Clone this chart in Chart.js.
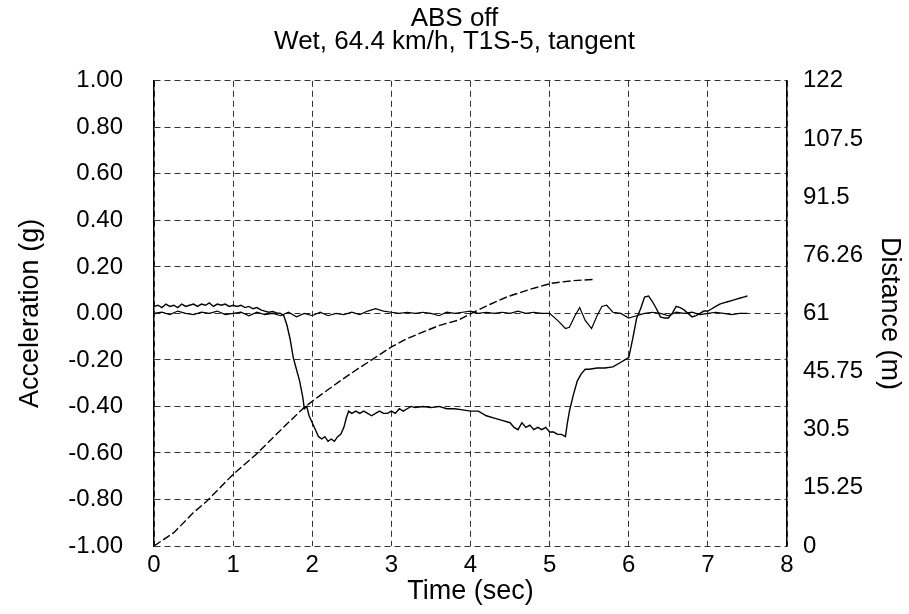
<!DOCTYPE html>
<html>
<head>
<meta charset="utf-8">
<script src="https://cdn.jsdelivr.net/npm/chart.js@4.4.1/dist/chart.umd.min.js"></script>
<style>
  html, body { margin: 0; padding: 0; background: #ffffff; }
  #wrap { width: 909px; height: 614px; }
</style>
</head>
<body>
<div id="wrap"><canvas id="c" width="909" height="614"></canvas></div>
<script>
// ---- Text ----
const titleLine1 = 'ABS off';
const titleLine2 = 'Wet, 64.4 km/h, T1S-5, tangent';
const xTitle = 'Time (sec)';
const yLeftTitle = 'Acceleration (g)';
const yRightTitle = 'Distance (m)';

// ---- Tick labels ----
const xTickLabels = ['0', '1', '2', '3', '4', '5', '6', '7', '8'];
const leftTickLabels = ['-1.00', '-0.80', '-0.60', '-0.40', '-0.20', '0.00', '0.20', '0.40', '0.60', '0.80', '1.00'];
const rightTickLabels = ['0', '15.25', '30.5', '45.75', '61', '76.26', '91.5', '107.5', '122'];

// ---- Longitudinal acceleration (g) ----
const longTime = [0,0.05,0.1,0.15,0.2,0.25,0.3,0.35,0.4,0.45,0.5,0.55,0.6,0.65,0.7,0.75,0.8,0.85,0.9,0.95,
  1.0,1.05,1.1,1.15,1.2,1.25,1.3,1.35,1.4,1.45,1.5,1.55,1.6,1.64,1.68,1.72,1.76,1.8,1.84,1.88,1.9,1.93,1.96,
  2.0,2.04,2.08,2.12,2.16,2.2,2.24,2.28,2.32,2.36,2.4,2.43,2.46,2.5,2.55,2.6,2.65,2.7,2.75,2.8,2.85,2.9,2.95,
  3.0,3.05,3.1,3.15,3.2,3.25,3.3,3.4,3.5,3.6,3.7,3.8,3.9,4.0,4.1,4.2,4.3,4.4,4.5,4.55,4.6,4.65,4.7,4.75,4.8,
  4.85,4.9,4.95,5.0,5.05,5.1,5.15,5.2,5.22,5.25,5.3,5.35,5.4,5.45,5.5,5.6,5.7,5.8,5.9,5.95,6.0,6.05,6.1,6.15,
  6.2,6.25,6.3,6.35,6.4,6.45,6.5,6.55,6.6,6.65,6.7,6.75,6.8,6.85,6.9,6.95,7.0,7.05,7.1,7.15,7.2,7.25,7.3,
  7.35,7.4,7.45,7.5];
const longAccel = [0.03,0.035,0.025,0.04,0.03,0.035,0.025,0.04,0.03,0.035,0.04,0.03,0.04,0.035,0.045,0.03,0.04,0.035,0.04,0.03,
  0.035,0.03,0.035,0.025,0.03,0.02,0.025,0.015,0.01,0.005,0.008,0.002,0.0,-0.01,-0.05,-0.11,-0.19,-0.24,-0.29,-0.36,-0.41,-0.40,-0.44,
  -0.47,-0.50,-0.53,-0.54,-0.53,-0.55,-0.54,-0.55,-0.53,-0.52,-0.49,-0.45,-0.42,-0.43,-0.42,-0.43,-0.42,-0.43,-0.44,-0.43,-0.42,-0.43,-0.43,
  -0.42,-0.43,-0.41,-0.42,-0.41,-0.40,-0.405,-0.40,-0.405,-0.40,-0.41,-0.41,-0.415,-0.42,-0.42,-0.44,-0.45,-0.46,-0.47,-0.49,-0.50,-0.47,-0.49,-0.48,-0.50,
  -0.49,-0.50,-0.49,-0.51,-0.51,-0.52,-0.52,-0.53,-0.48,-0.42,-0.35,-0.29,-0.26,-0.24,-0.24,-0.235,-0.235,-0.23,-0.21,-0.20,-0.19,-0.11,-0.02,0.02,
  0.07,0.075,0.05,0.02,-0.015,-0.02,-0.02,0.0,0.03,0.025,0.015,0.0,-0.015,-0.01,0.0,0.01,0.01,0.02,0.03,0.04,0.045,0.05,0.055,
  0.06,0.065,0.07,0.075];

// ---- Lateral acceleration (g) ----
const latTime = [0,0.1,0.2,0.3,0.4,0.5,0.6,0.7,0.8,0.9,1.0,1.1,1.2,1.3,1.4,1.5,1.6,1.7,1.8,1.9,2.0,2.1,2.2,2.3,2.4,2.5,
  2.6,2.7,2.8,2.9,3.0,3.1,3.2,3.3,3.4,3.5,3.6,3.7,3.8,3.9,4.0,4.1,4.2,4.3,4.4,4.5,4.6,4.7,4.8,4.9,5.0,5.1,5.2,5.25,
  5.32,5.38,5.45,5.53,5.6,5.66,5.72,5.8,5.9,6.0,6.1,6.2,6.3,6.4,6.5,6.6,6.7,6.8,6.9,7.0,7.1,7.2,7.3,7.4,7.5];
const latAccel = [0.0,0.005,-0.005,0.01,0.0,-0.005,0.005,0.0,0.01,-0.005,0.0,0.005,-0.01,0.005,-0.005,0.0,-0.01,0.005,-0.015,0.0,
  -0.01,0.005,-0.01,0.0,-0.005,0.005,-0.005,0.01,0.02,0.01,0.005,0.0,0.005,0.0,0.005,0.0,-0.01,0.005,0.0,0.005,0.01,0.0,0.005,0.0,
  0.005,0.0,0.01,0.0,0.005,0.0,0.0,-0.03,-0.065,-0.06,-0.01,0.025,-0.03,-0.065,-0.01,0.03,0.035,0.005,0.0,-0.02,-0.01,0.0,0.005,
  0.0,-0.01,0.005,0.0,0.005,-0.005,0.0,0.005,0.0,-0.005,0.0,0.0];

// ---- Distance (m) ----
const distTime = [0,0.25,0.5,0.67,1.0,1.3,1.64,1.9,2.1,2.36,2.6,2.78,3.0,3.2,3.41,3.6,3.84,4.05,4.25,4.47,4.75,5.02,5.3,5.55];
const distance = [0,3.5,8.8,11.8,18.8,24.2,31.2,36.4,39.5,43.4,46.8,49.2,52.2,54.4,56.2,57.8,59.2,61.4,63.4,65.4,67.3,68.9,69.6,69.9];

const toPoints = (xs, ys) => xs.map((x, i) => ({ x: x, y: ys[i] }));

const gridStyle = { color: 'rgba(0,0,0,0.8)', lineWidth: 1, drawTicks: false };
const family = '"Liberation Sans", Arial, Helvetica, sans-serif';

new Chart(document.getElementById('c'), {
  type: 'line',
  data: {
    datasets: [
      { label: 'Longitudinal acceleration', data: toPoints(longTime, longAccel), yAxisID: 'y',
        borderColor: '#000', borderWidth: 1.4, pointRadius: 0, tension: 0, fill: false },
      { label: 'Lateral acceleration', data: toPoints(latTime, latAccel), yAxisID: 'y',
        borderColor: '#000', borderWidth: 1.2, pointRadius: 0, tension: 0, fill: false },
      { label: 'Distance', data: toPoints(distTime, distance), yAxisID: 'y2',
        borderColor: '#000', borderWidth: 1.4, borderDash: [8, 3], pointRadius: 0, tension: 0, fill: false }
    ]
  },
  options: {
    responsive: false,
    animation: false,
    devicePixelRatio: 1,
    layout: { padding: 0 },
    plugins: {
      legend: { display: false },
      tooltip: { enabled: false },
      title: { display: true, text: titleLine1, color: '#000',
        font: { family: family, size: 26, weight: 'normal', lineHeight: 0.9 },
        padding: { top: 7, bottom: 0 } },
      subtitle: { display: true, text: titleLine2, color: '#000',
        font: { family: family, size: 26, weight: 'normal', lineHeight: 0.9 },
        padding: { top: 0, bottom: 27 } }
    },
    scales: {
      x: {
        type: 'linear', min: 0, max: 8,
        afterFit: (s) => { s.height = 68; },
        ticks: { stepSize: 1, color: '#000', padding: 5, maxRotation: 0,
          font: { family: family, size: 24 },
          callback: (v, i) => xTickLabels[i] },
        grid: gridStyle,
        border: { display: false, dash: [6, 4] },
        title: { display: true, text: xTitle, color: '#000',
          font: { family: family, size: 27 }, padding: { top: 0, bottom: 6 } }
      },
      y: {
        type: 'linear', position: 'left', min: -1, max: 1,
        afterFit: (s) => { s.width = 154; },
        ticks: { stepSize: 0.2, color: '#000', padding: 31,
          font: { family: family, size: 24 },
          callback: (v, i) => leftTickLabels[i] },
        grid: gridStyle,
        border: { display: true, color: '#000', width: 1.5, dash: [6, 4] },
        title: { display: true, text: yLeftTitle, color: '#000',
          font: { family: family, size: 27 }, padding: { top: 14, bottom: 0 } }
      },
      y2: {
        type: 'linear', position: 'right', min: 0, max: 122,
        afterFit: (s) => { s.width = 122; },
        ticks: { stepSize: 15.25, color: '#000', padding: 16,
          font: { family: family, size: 24 },
          callback: (v, i) => rightTickLabels[i] },
        grid: { drawOnChartArea: false, drawTicks: false },
        border: { display: true, color: '#000', width: 1.5 },
        title: { display: true, text: yRightTitle, color: '#000',
          font: { family: family, size: 27 }, padding: { top: 3, bottom: 0 } }
      }
    }
  }
});
</script>
</body>
</html>
